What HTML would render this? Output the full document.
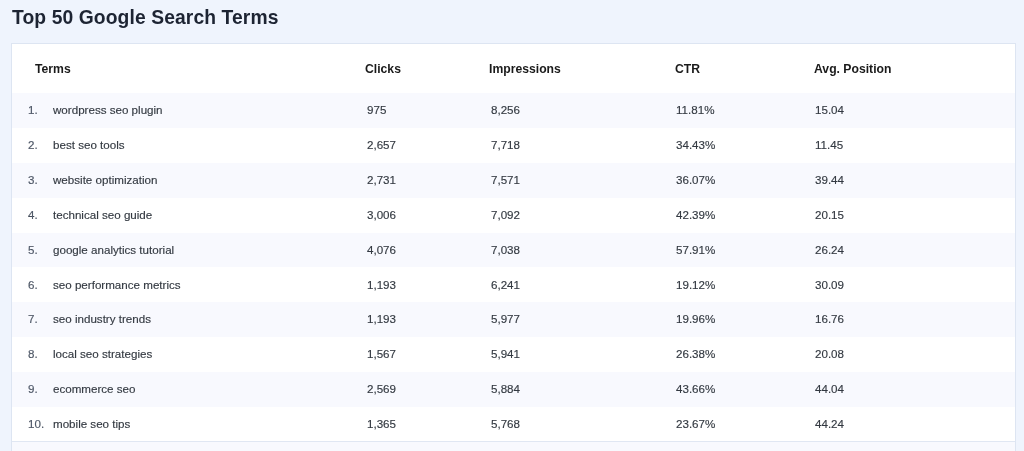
<!DOCTYPE html>
<html><head><meta charset="utf-8"><style>
html,body{margin:0;padding:0;}
.title,.hdr span,.row span{will-change:transform;}
body{width:1024px;height:451px;overflow:hidden;background:#eff4fd;font-family:"Liberation Sans",sans-serif;position:relative;}
.title{position:absolute;left:12px;top:6px;font-size:19.3px;letter-spacing:0.1px;font-weight:bold;color:#1d2433;line-height:24px;white-space:nowrap;}
.card{position:absolute;left:11px;top:43px;width:1003px;height:420px;background:#fff;border:1px solid #dde5f2;}
.hdr{position:absolute;top:0;left:0;right:0;height:49px;}
.hdr span{position:absolute;top:17.6px;font-size:12.2px;font-weight:bold;color:#1a1a1a;line-height:15px;white-space:nowrap;}
.row{position:absolute;left:0;right:0;height:34.9px;}
.row.s{background:#f8f9fe;}
.row span{position:absolute;top:10px;font-size:11.6px;line-height:14px;color:#333941;white-space:nowrap;-webkit-text-stroke:0.15px #333941;}
.row .n{left:16.4px;color:#566072;}
.t{left:40.5px;}
.c1{left:355px;} .c2{left:479px;} .c3{left:664px;} .c4{left:803px;}
.foot{position:absolute;left:0;right:0;top:397.00px;height:1px;background:#e0e7f3;}
.foot2{position:absolute;left:0;right:0;top:398.00px;height:30px;background:#f8f9fe;}
</style></head><body>
<div class="title">Top 50 Google Search Terms</div>
<div class="card">
<div class="hdr"><span style="left:23px">Terms</span><span style="left:353px">Clicks</span><span style="left:477px">Impressions</span><span style="left:663px">CTR</span><span style="left:802px">Avg. Position</span></div>
<div class="row s" style="top:49.00px"><span class="n">1.</span><span class="t">wordpress seo plugin</span><span class="c1">975</span><span class="c2">8,256</span><span class="c3">11.81%</span><span class="c4">15.04</span></div>
<div class="row" style="top:83.90px"><span class="n">2.</span><span class="t">best seo tools</span><span class="c1">2,657</span><span class="c2">7,718</span><span class="c3">34.43%</span><span class="c4">11.45</span></div>
<div class="row s" style="top:118.80px"><span class="n">3.</span><span class="t">website optimization</span><span class="c1">2,731</span><span class="c2">7,571</span><span class="c3">36.07%</span><span class="c4">39.44</span></div>
<div class="row" style="top:153.70px"><span class="n">4.</span><span class="t">technical seo guide</span><span class="c1">3,006</span><span class="c2">7,092</span><span class="c3">42.39%</span><span class="c4">20.15</span></div>
<div class="row s" style="top:188.60px"><span class="n">5.</span><span class="t">google analytics tutorial</span><span class="c1">4,076</span><span class="c2">7,038</span><span class="c3">57.91%</span><span class="c4">26.24</span></div>
<div class="row" style="top:223.50px"><span class="n">6.</span><span class="t">seo performance metrics</span><span class="c1">1,193</span><span class="c2">6,241</span><span class="c3">19.12%</span><span class="c4">30.09</span></div>
<div class="row s" style="top:258.40px"><span class="n">7.</span><span class="t">seo industry trends</span><span class="c1">1,193</span><span class="c2">5,977</span><span class="c3">19.96%</span><span class="c4">16.76</span></div>
<div class="row" style="top:293.30px"><span class="n">8.</span><span class="t">local seo strategies</span><span class="c1">1,567</span><span class="c2">5,941</span><span class="c3">26.38%</span><span class="c4">20.08</span></div>
<div class="row s" style="top:328.20px"><span class="n">9.</span><span class="t">ecommerce seo</span><span class="c1">2,569</span><span class="c2">5,884</span><span class="c3">43.66%</span><span class="c4">44.04</span></div>
<div class="row" style="top:363.10px"><span class="n">10.</span><span class="t">mobile seo tips</span><span class="c1">1,365</span><span class="c2">5,768</span><span class="c3">23.67%</span><span class="c4">44.24</span></div>
<div class="foot"></div><div class="foot2"></div>
</div>
</body></html>
